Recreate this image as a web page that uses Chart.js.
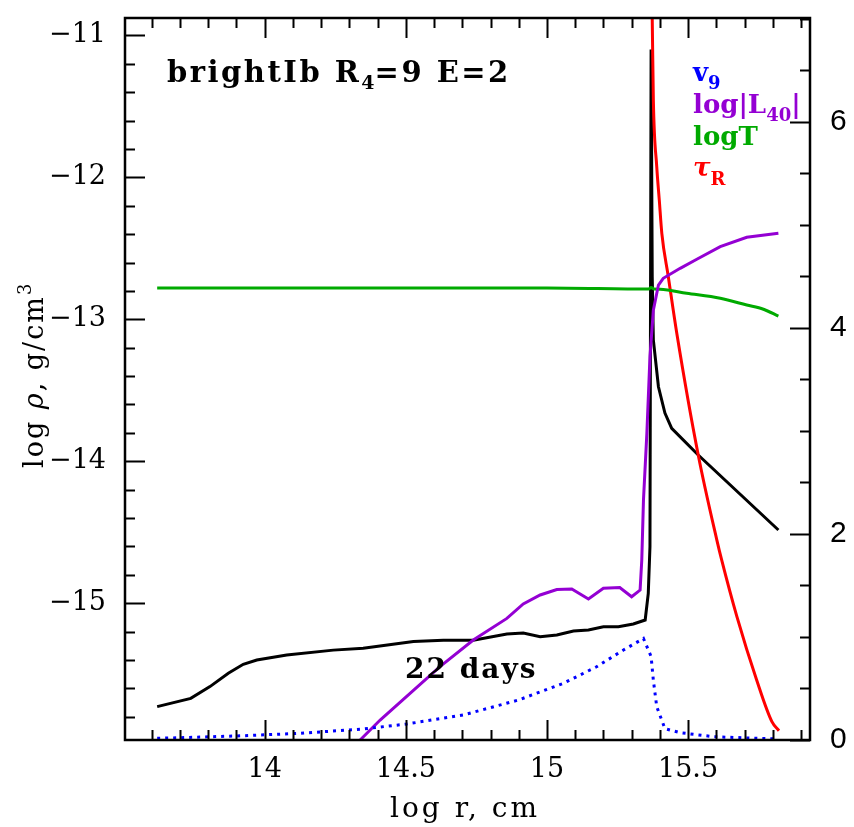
<!DOCTYPE html>
<html>
<head>
<meta charset="utf-8">
<style>
  html, body { margin: 0; padding: 0; background: #fff; }
  #wrap { width: 854px; height: 827px; }
</style>
<script src="https://cdn.jsdelivr.net/npm/chart.js@4.4.1/dist/chart.umd.min.js"></script>
</head>
<body>
<div id="wrap"><canvas id="c" width="854" height="827"></canvas></div>
<script>
// Density profile, log rho [g/cm^3] vs log r [cm]  (left axis)
const rhoR = [13.619, 13.738, 13.806, 13.871, 13.924, 13.972, 14.078, 14.243, 14.349, 14.527,
              14.633, 14.739, 14.858, 14.916, 14.976, 15.035, 15.094, 15.147, 15.200, 15.253,
              15.306, 15.348, 15.359, 15.365, 15.369, 15.373, 15.377, 15.395, 15.418, 15.442,
              15.536, 15.820];
const rhoV = [-15.728, -15.670, -15.587, -15.493, -15.430, -15.400, -15.364, -15.330, -15.317, -15.270,
              -15.260, -15.260, -15.216, -15.210, -15.235, -15.223, -15.195, -15.188, -15.165, -15.165,
              -15.146, -15.118, -14.930, -14.600, -11.100, -12.700, -13.146, -13.475, -13.660, -13.768,
              -13.956, -14.484];

// Velocity v_9 (right axis, dotted)
const velR = [13.619, 13.901, 14.125, 14.349, 14.503, 14.704, 14.899, 15.058, 15.176, 15.271,
              15.342, 15.369, 15.377, 15.389, 15.418, 15.472, 15.590, 15.814];
const velV = [0.016, 0.039, 0.065, 0.107, 0.155, 0.243, 0.388, 0.550, 0.711, 0.873,
              0.985, 0.810, 0.580, 0.323, 0.110, 0.071, 0.032, 0.010];

// log |L_40| (right axis)
const lumR = [14.338, 14.409, 14.621, 14.739, 14.858, 14.916, 14.976, 15.035, 15.088, 15.147,
              15.200, 15.258, 15.300, 15.330, 15.336, 15.342, 15.354, 15.365, 15.377, 15.395,
              15.412, 15.472, 15.531, 15.614, 15.708, 15.820];
const lumV = [0.000, 0.194, 0.712, 0.970, 1.180, 1.320, 1.407, 1.460, 1.465, 1.368,
              1.472, 1.480, 1.390, 1.455, 1.747, 2.330, 2.976, 3.720, 4.170, 4.415,
              4.480, 4.577, 4.665, 4.787, 4.878, 4.917];

// log T (right axis)
const tempR = [13.619, 14.500, 15.000, 15.360, 15.369, 15.380, 15.401, 15.495, 15.614, 15.708, 15.767, 15.820];
const tempV = [4.386, 4.386, 4.386, 4.376, 4.392, 4.376, 4.374, 4.335, 4.286, 4.221, 4.180, 4.114];

// Rosseland optical depth tau_R (right axis)
const tauR = [15.371, 15.373, 15.377, 15.389, 15.398, 15.407, 15.430, 15.460, 15.536, 15.602,
              15.619, 15.673, 15.743, 15.797, 15.822];
const tauV = [7.300, 7.000, 6.210, 5.563, 5.240, 4.917, 4.496, 3.947, 2.766, 1.940,
              1.747, 1.197, 0.582, 0.178, 0.090];

// Axis ticks
const xTicks = [14, 14.5, 15, 15.5];
const rhoTicks = [-15, -14, -13, -12, -11];
const rightTicks = [0, 2, 4, 6];

const pts = (xs, ys) => xs.map((x, i) => ({ x: x, y: ys[i] }));

const SERIF = '"DejaVu Serif", "Liberation Serif", serif';
const BOLD = '"DejaVu Serif", "Liberation Serif", serif';
const SANS = '"Liberation Sans", Arial, sans-serif';

const BLACK = '#000000', BLUE = '#0000ff', PURPLE = '#9400d3', GREEN = '#00aa00', RED = '#ff0000';

function runs(ctx, x, y, parts) {
  for (const p of parts) {
    ctx.font = p.font;
    ctx.fillStyle = p.color;
    ctx.letterSpacing = (p.ls || 0) + 'px';
    ctx.fillText(p.t, x, y + (p.dy || 0));
    x += ctx.measureText(p.t).width;
  }
  ctx.letterSpacing = '0px';
  return x;
}

// Inward ticks on all four sides plus the frame
const framePlugin = {
  id: 'frame',
  afterDatasetsDraw(chart) {
    const { ctx, chartArea: a, scales } = chart;
    const sx = scales.x, sl = scales.y, sr = scales.y2;
    ctx.save();
    ctx.strokeStyle = '#000';
    ctx.lineWidth = 2;
    ctx.beginPath();
    const MAJ = 20, MIN = 10;
    for (let k = 135; k <= 159; k++) {
      const v = k / 10;
      if (v < sx.min || v > sx.max) continue;
      const px = Math.round(sx.getPixelForValue(v)) + 0.5;
      const len = (k % 5 === 0) ? MAJ : MIN;
      ctx.moveTo(px, a.bottom); ctx.lineTo(px, a.bottom - len);
      ctx.moveTo(px, a.top); ctx.lineTo(px, a.top + len);
    }
    for (let k = -80; k <= -54; k++) {
      const v = k / 5;
      if (v < sl.min || v > sl.max) continue;
      const py = Math.round(sl.getPixelForValue(v)) + 0.5;
      const len = (k % 5 === 0) ? MAJ : MIN;
      ctx.moveTo(a.left, py); ctx.lineTo(a.left + len, py);
    }
    for (let k = 0; k <= 14; k++) {
      const v = k / 2;
      if (v < sr.min || v > sr.max) continue;
      const py = Math.round(sr.getPixelForValue(v)) + 0.5;
      const len = (k % 4 === 0) ? MAJ : MIN;
      ctx.moveTo(a.right, py); ctx.lineTo(a.right - len, py);
    }
    ctx.stroke();
    ctx.lineWidth = 2.5;
    ctx.strokeRect(a.left, a.top, a.right - a.left, a.bottom - a.top);
    ctx.restore();
  },
  afterDraw(chart) {
    const { ctx } = chart;
    ctx.save();
    ctx.textBaseline = 'alphabetic';
    ctx.textAlign = 'left';

    // Model label
    const B = 'bold 29px ' + BOLD, Bs = 'bold 19px ' + BOLD;
    runs(ctx, 167, 82, [
      { t: 'brightIb R', font: B, color: BLACK, ls: 2.5 },
      { t: '4', font: Bs, color: BLACK, dy: 7 },
      { t: '=9 E=2', font: B, color: BLACK, ls: 2.5 }
    ]);
    runs(ctx, 405, 678, [{ t: '22 days', font: 'bold 28px ' + BOLD, color: BLACK, ls: 2 }]);

    // Curve key
    const L = 'bold 26px ' + BOLD, Ls = 'bold 18px ' + BOLD;
    runs(ctx, 693, 81, [
      { t: 'v', font: L, color: BLUE },
      { t: '9', font: Ls, color: BLUE, dy: 8 }
    ]);
    runs(ctx, 693, 113, [
      { t: 'log|L', font: L, color: PURPLE },
      { t: '40', font: Ls, color: PURPLE, dy: 8 },
      { t: '|', font: L, color: PURPLE }
    ]);
    runs(ctx, 693, 145, [{ t: 'logT', font: L, color: GREEN }]);
    runs(ctx, 693, 176, [
      { t: 'τ', font: 'bold italic 26px ' + BOLD, color: RED },
      { t: 'R', font: Ls, color: RED, dy: 9 }
    ]);

    // Axis titles
    runs(ctx, 390, 817, [{ t: 'log r, cm', font: '28px ' + SERIF, color: BLACK, ls: 3 }]);
    ctx.translate(43, 468);
    ctx.rotate(-Math.PI / 2);
    runs(ctx, 0, 0, [
      { t: 'log ', font: '27px ' + SERIF, color: BLACK, ls: 2 },
      { t: 'ρ', font: 'italic 27px ' + SERIF, color: BLACK, ls: 2 },
      { t: ', g/cm', font: '27px ' + SERIF, color: BLACK, ls: 2 },
      { t: '3', font: '18px ' + SERIF, color: BLACK, dy: -12 }
    ]);
    ctx.restore();
  }
};

function fixTicks(list) {
  return function (scale) { scale.ticks = list.map(v => ({ value: v })); };
}
function fitTo(prop, size) {
  return function (s) {
    s[prop] = size;
    s.paddingTop = 0; s.paddingBottom = 0; s.paddingLeft = 0; s.paddingRight = 0;
  };
}

const lineDs = (label, xs, ys, color, axis, extra) => Object.assign({
  label: label,
  data: pts(xs, ys),
  borderColor: color,
  backgroundColor: color,
  borderWidth: 3,
  pointRadius: 0,
  tension: 0,
  fill: false,
  yAxisID: axis
}, extra || {});

new Chart(document.getElementById('c'), {
  type: 'line',
  data: {
    datasets: [
      lineDs('v9', velR, velV, BLUE, 'y2', { borderDash: [3, 5], borderWidth: 3 }),
      lineDs('log|L40|', lumR, lumV, PURPLE, 'y2'),
      lineDs('logT', tempR, tempV, GREEN, 'y2', { cubicInterpolationMode: 'monotone' }),
      lineDs('tauR', tauR, tauV, RED, 'y2', { cubicInterpolationMode: 'monotone' }),
      lineDs('log rho', rhoR, rhoV, BLACK, 'y')
    ]
  },
  plugins: [framePlugin],
  options: {
    responsive: false,
    devicePixelRatio: 1,
    animation: false,
    events: [],
    layout: { padding: { top: 18, left: 0, right: 0, bottom: 0 } },
    plugins: { legend: { display: false }, tooltip: { enabled: false } },
    scales: {
      x: {
        type: 'linear', position: 'bottom', min: 13.505, max: 15.932,
        afterBuildTicks: fixTicks(xTicks),
        afterFit: fitTo('height', 87),
        grid: { display: false, drawTicks: false },
        border: { display: false },
        ticks: { color: '#000', padding: 14, font: { family: SERIF, size: 27 },
                 autoSkip: false, maxRotation: 0, callback: v => String(v) }
      },
      y: {
        type: 'linear', position: 'left', min: -15.963, max: -10.878,
        afterBuildTicks: fixTicks(rhoTicks),
        afterFit: fitTo('width', 125),
        grid: { display: false, drawTicks: false },
        border: { display: false },
        ticks: { color: '#000', padding: 19, font: { family: SERIF, size: 27 },
                 callback: v => '\u2212' + Math.abs(v) }
      },
      y2: {
        type: 'linear', position: 'right', min: 0, max: 7.006,
        afterBuildTicks: fixTicks(rightTicks),
        afterFit: fitTo('width', 44),
        grid: { display: false, drawTicks: false },
        border: { display: false },
        ticks: { color: '#000', padding: 20, font: { family: SANS, size: 30 },
                 callback: v => String(v) }
      }
    }
  }
});
</script>
</body>
</html>
